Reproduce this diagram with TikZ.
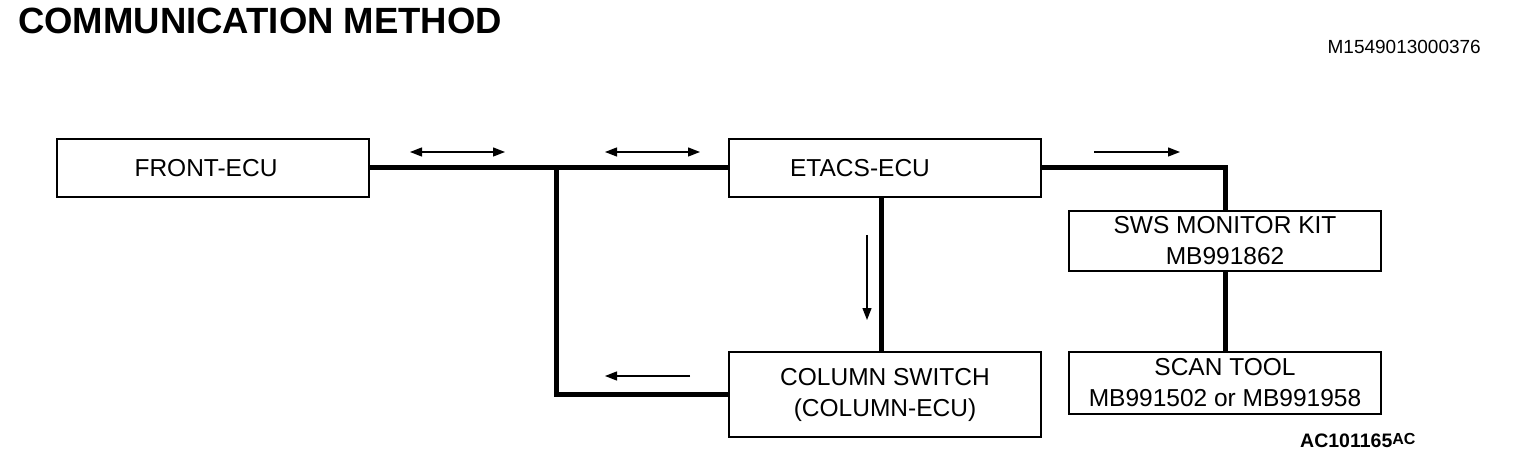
\documentclass[tikz,border=0pt]{standalone}
\usepackage{fontspec}
\setmainfont{Liberation Sans}
\usepackage{tikz}
\usetikzlibrary{positioning, arrows.meta, calc}

\tikzset{
  boxfont/.style={font=\fontsize{24.5}{31}\selectfont},
  unitbox/.style={draw, line width=1.8pt, minimum width=312pt, inner sep=0pt,
    align=center, boxfont},
  bus/.style={line width=5pt},
  flow/.style={line width=1.3pt, -{Triangle[length=12pt,width=9pt]}},
  dflow/.style={line width=1.3pt, {Triangle[length=12pt,width=9pt]}-{Triangle[length=12pt,width=9pt]}}
}

\begin{document}
\begin{tikzpicture}[x=1pt,y=-1pt]
  \useasboundingbox (0,0) rectangle (1520,462);

  % title and reference numbers
  \node[anchor=base west, inner sep=0pt, font=\fontsize{36.5}{36}\selectfont\bfseries] (title) at (18,34) {COMMUNICATION METHOD};
  \node[anchor=base east, inner sep=0pt, font=\fontsize{19}{19}\selectfont] (docnum) at (1481,54) {M1549013000376};
  \node[anchor=base west, inner sep=0pt, font=\fontsize{19.5}{19}\selectfont\bfseries] (fignum) at (1300,447)
    {AC101165\raisebox{3pt}{\fontsize{16}{16}\selectfont AC}};

  % units
  \node[unitbox, minimum height=58pt] (front) at (213,168) {};
  \node[boxfont] (frontlbl) at ([xshift=-7pt]front.center) {FRONT-ECU};
  \node[unitbox, minimum height=58pt] (etacs) at (885,168) {};
  \node[boxfont] (etacslbl) at ([xshift=-25pt]etacs.center) {ETACS-ECU};
  \node[unitbox, minimum height=85pt] (column) at (885,394.5) {COLUMN SWITCH\\(COLUMN-ECU)};
  \node[unitbox, minimum height=60pt] (sws) at (1225,241) {SWS MONITOR KIT\\MB991862};
  \node[unitbox, minimum height=62pt] (scan) at (1225,383) {SCAN TOOL\\MB991502 or MB991958};

  % communication lines
  \coordinate (junc) at (556,168);
  \draw[bus] (front.east) -- (etacs.west);
  \draw[bus] (junc) |- (column.west);
  \draw[bus] ([xshift=-4pt]etacs.south) -- ([xshift=-4pt]column.north);
  \draw[bus] (etacs.east) -| (sws.north);
  \draw[bus] (sws.south) -- (scan.north);

  % signal direction
  \coordinate (d1a) at (410,152); \coordinate (d1b) at (505,152);
  \coordinate (d2a) at (605,152); \coordinate (d2b) at (700,152);
  \coordinate (d3a) at (1094,152); \coordinate (d3b) at (1180,152);
  \coordinate (d4a) at (867,235); \coordinate (d4b) at (867,320);
  \coordinate (d5a) at (690,376); \coordinate (d5b) at (605,376);
  \draw[dflow] (d1a) -- (d1b);
  \draw[dflow] (d2a) -- (d2b);
  \draw[flow] (d3a) -- (d3b);
  \draw[flow] (d4a) -- (d4b);
  \draw[flow] (d5a) -- (d5b);
\end{tikzpicture}
\end{document}
